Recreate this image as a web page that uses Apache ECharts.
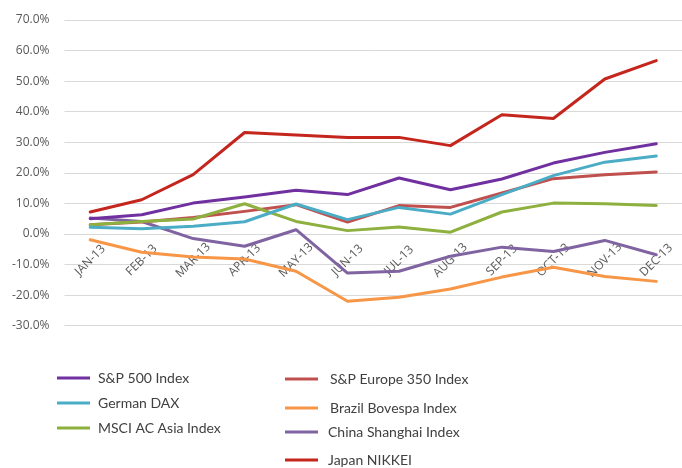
<!DOCTYPE html>
<html>
<head>
<meta charset="utf-8">
<script src="https://cdn.jsdelivr.net/npm/echarts@6/dist/echarts.min.js"></script>
<style>
html,body{margin:0;padding:0;background:#fff;}
#conMain{width:682px;height:468px;}
</style>
</head>
<body>
<div id="conMain"></div>
<script>
var months = ['JAN-13','FEB-13','MAR-13','APR-13','MAY-13','JUN-13','JUL-13','AUG-13','SEP-13','OCT-13','NOV-13','DEC-13'];

var sp500 = [5.0, 6.3, 10.1, 12.1, 14.3, 12.9, 18.3, 14.5, 18.0, 23.2, 26.7, 29.5];
var dax = [2.2, 1.7, 2.5, 4.0, 9.8, 4.7, 8.7, 6.5, 12.9, 19.1, 23.5, 25.5];
var msciAsia = [3.0, 4.1, 4.9, 9.9, 4.1, 1.1, 2.3, 0.6, 7.2, 10.1, 9.9, 9.3];
var europe350 = [3.0, 3.9, 5.4, 7.4, 9.6, 3.9, 9.3, 8.7, 13.4, 18.1, 19.4, 20.3];
var bovespa = [-1.9, -6.0, -7.5, -8.2, -12.2, -22.0, -20.7, -18.0, -14.1, -10.9, -13.9, -15.5];
var shanghai = [5.2, 4.1, -1.5, -4.0, 1.4, -12.8, -12.2, -7.3, -4.3, -5.7, -2.1, -6.8];
var nikkei = [7.2, 11.2, 19.4, 33.2, 32.4, 31.6, 31.6, 28.9, 39.0, 37.8, 50.7, 56.7];

var names = ['S&P 500 Index','German DAX','MSCI AC Asia Index','S&P Europe 350 Index','Brazil Bovespa Index','China Shanghai Index','Japan NIKKEI'];
var colors = ['#7030a0','#4bacc6','#8db03f','#c0504d','#f79646','#8064a2','#c4261d'];
var values = [sp500, dax, msciAsia, europe350, bovespa, shanghai, nikkei];

// legend placement: [left, middle y, text gap]
var legendPos = [[57,378,3],[57,403,3],[57,428,3],[285,379,7],[285,408,7],[285,432,5],[285,460,5]];

var series = [];
var legends = [];
for (var i = 0; i < names.length; i++) {
    series.push({
        name: names[i],
        type: 'line',
        data: values[i],
        symbol: 'none',
        z: 2 + (names.length - i),
        lineStyle: {width: 3, color: colors[i], cap: 'round', join: 'round'},
        itemStyle: {color: colors[i]}
    });
    legends.push({
        data: [names[i]],
        left: legendPos[i][0],
        top: legendPos[i][1] - 9,
        padding: 0,
        icon: 'rect',
        itemWidth: 33,
        itemHeight: 3,
        textStyle: {
            fontFamily: 'Lato',
            fontSize: 14,
            color: '#404040',
            lineHeight: 18,
            padding: [0, 0, 0, legendPos[i][2]]
        }
    });
}

var option = {
    animation: false,
    color: colors,
    legend: legends,
    grid: {left: 64.5, right: -11, top: 20, bottom: 142.3, containLabel: false},
    xAxis: {
        type: 'category',
        data: months,
        boundaryGap: true,
        position: 'bottom',
        offset: -91.4,   // axis sits on the 0% line
        axisLine: {show: true, onZero: false, lineStyle: {color: '#d9d9d9', width: 1}},
        axisTick: {show: false},
        axisLabel: {
            rotate: 45,
            interval: 0,
            align: 'center',
            verticalAlign: 'middle',
            margin: 26,
            fontFamily: 'Open Sans',
            fontSize: 12,
            color: '#595959'
        }
    },
    yAxis: {
        type: 'value',
        min: -30,
        max: 70,
        interval: 10,
        axisLine: {show: false},
        axisTick: {show: false},
        splitLine: {lineStyle: {color: '#d9d9d9', width: 1}},
        axisLabel: {
            margin: 15,
            fontFamily: 'Open Sans',
            fontSize: 12,
            color: '#595959',
            formatter: function (v) { return v.toFixed(1) + '%'; }
        }
    },
    series: series
};

var myChart = echarts.init(document.getElementById('conMain'));
myChart.setOption(option);
</script>
</body>
</html>
